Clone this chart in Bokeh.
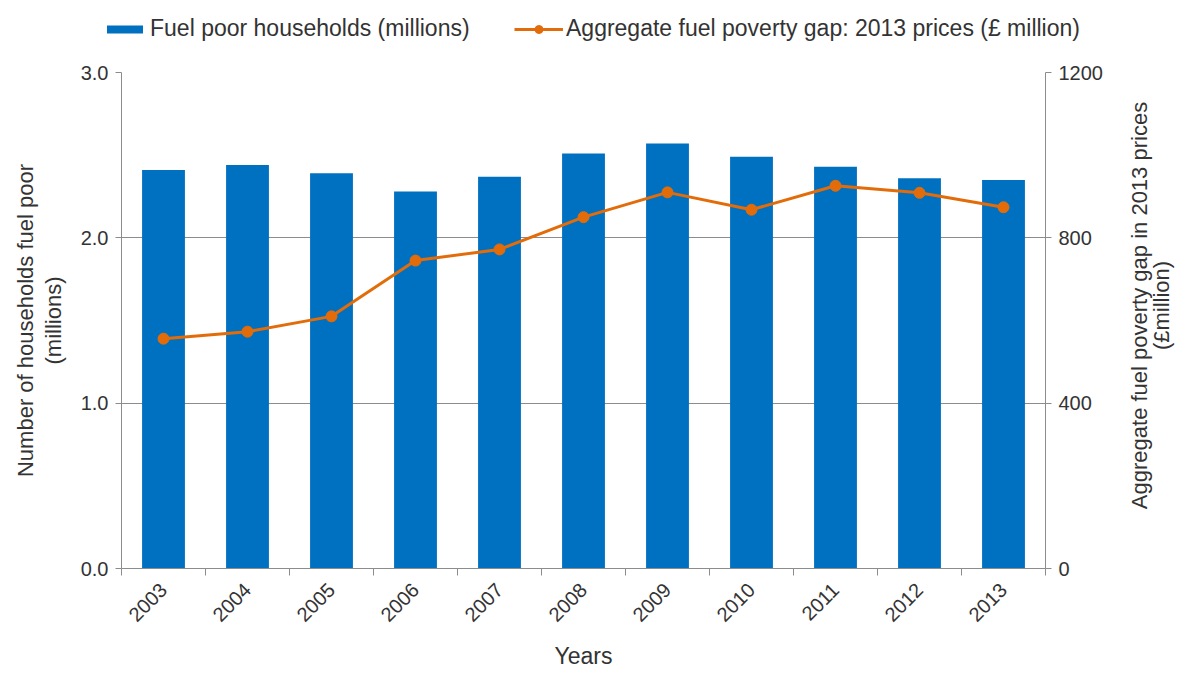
from bokeh.plotting import figure
from bokeh.layouts import column, row
from bokeh.models import (Range1d, LinearAxis, FixedTicker, NumeralTickFormatter,
                          Legend, LegendItem, ColumnDataSource)
from bokeh.core.properties import value
from bokeh.embed import file_html
from bokeh.resources import INLINE
import math

years = ["2003", "2004", "2005", "2006", "2007", "2008", "2009", "2010", "2011", "2012", "2013"]
households = [2.41, 2.44, 2.39, 2.28, 2.37, 2.51, 2.57, 2.49, 2.43, 2.36, 2.35]
gap = [556, 573, 610, 745, 772, 850, 910, 868, 926, 909, 874]

bar_name = "Fuel poor households (millions)"
line_name = "Aggregate fuel poverty gap: 2013 prices (\u00a3 million)"
left_title = ["Number of households fuel poor", "(millions)"]
right_title = ["Aggregate fuel poverty gap in 2013 prices", "(\u00a3million)"]

FONT = "Liberation Sans"
BLUE = "#0070C0"
ORANGE = "#E36C0A"
GRID = "#8c8c8c"
TXT = "#333333"

LEG_H = 48
MAIN_W = 1105
MAIN_H = 624
RIGHT_W = 70
FRAME_TOP = 72
FRAME_BOTTOM = 568

xpos = [i + 0.5 for i in range(len(years))]
src = ColumnDataSource(dict(x=xpos, h=households, g=gap))

# ---------------- main chart ----------------
p = figure(width=MAIN_W, height=MAIN_H, output_backend="svg", toolbar_location=None,
           x_range=Range1d(0, len(years)), y_range=Range1d(0, 3))
p.min_border_left = 121
p.min_border_right = MAIN_W - 1045
p.min_border_top = FRAME_TOP - LEG_H
p.min_border_bottom = MAIN_H - (FRAME_BOTTOM - LEG_H)
p.outline_line_color = None

p.extra_y_ranges = {"gap": Range1d(0, 1200)}

bars = p.vbar(x="x", top="h", width=0.51, source=src, color=BLUE, line_color=None)
ln = p.line(x="x", y="g", source=src, y_range_name="gap", color=ORANGE, line_width=3)
mk = p.scatter(x="x", y="g", source=src, y_range_name="gap", size=11,
               color=ORANGE, line_color=ORANGE)


def style_title(ax, text, size="22px"):
    ax.axis_label = text
    ax.axis_label_text_font = FONT
    ax.axis_label_text_font_size = size
    ax.axis_label_text_font_style = "normal"
    ax.axis_label_text_color = TXT


def style_ticks(ax, size="20px"):
    ax.major_label_text_font = FONT
    ax.major_label_text_font_size = size
    ax.major_label_text_color = TXT


# x axis
xa = p.xaxis[0]
xa.ticker = FixedTicker(ticks=xpos, minor_ticks=list(range(len(years) + 1)))
xa.major_label_overrides = {x: y for x, y in zip(xpos, years)}
xa.major_label_orientation = math.pi / 4
xa.major_tick_out = 0
xa.major_tick_in = 0
xa.minor_tick_out = 7
xa.minor_tick_in = 0
xa.minor_tick_line_color = GRID
xa.axis_line_color = GRID
style_ticks(xa, "20px")
xa.major_label_standoff = 11
style_title(xa, "Years", "23px")
xa.axis_label_standoff = 12

# left axis
ya = p.yaxis[0]
ya.ticker = FixedTicker(ticks=[0, 1, 2, 3])
ya.formatter = NumeralTickFormatter(format="0.0")
ya.major_tick_out = 6
ya.major_tick_in = 0
ya.minor_tick_out = 0
ya.minor_tick_in = 0
ya.major_tick_line_color = GRID
ya.axis_line_color = GRID
style_ticks(ya)
ya.major_label_standoff = 7
style_title(ya, left_title[1])
ya.axis_label_standoff = 12

ya2 = LinearAxis(ticker=FixedTicker(ticks=[]))
ya2.axis_line_color = None
ya2.major_tick_line_color = None
ya2.minor_tick_line_color = None
ya2.major_tick_out = 0
ya2.minor_tick_out = 0
ya2.major_label_text_font_size = "0px"
ya2.major_label_standoff = 0
style_title(ya2, left_title[0])
ya2.axis_label_standoff = 0
p.add_layout(ya2, "left")

# right axis (ticks only; title drawn in side panel)
ra = LinearAxis(y_range_name="gap", ticker=FixedTicker(ticks=[0, 400, 800, 1200]))
ra.major_tick_out = 6
ra.major_tick_in = 0
ra.minor_tick_out = 0
ra.minor_tick_in = 0
ra.major_tick_line_color = GRID
ra.axis_line_color = GRID
style_ticks(ra)
ra.major_label_standoff = 7
p.add_layout(ra, "right")

p.xgrid.grid_line_color = None
p.ygrid.ticker = FixedTicker(ticks=[1, 2, 3])
p.ygrid.grid_line_color = GRID
p.ygrid.grid_line_width = 1

# ---------------- right title panel ----------------
# (its frame is aligned with the main chart's frame by the row layout)
FRAME_H = FRAME_BOTTOM - FRAME_TOP
rf = figure(width=RIGHT_W, height=MAIN_H, output_backend="svg", toolbar_location=None,
            x_range=Range1d(0, RIGHT_W), y_range=Range1d(0, FRAME_H),
            x_axis_type=None, y_axis_type=None, min_border=0)
rf.outline_line_color = None
rf.grid.grid_line_color = None
ty = FRAME_BOTTOM - 305
for tx, t in zip([34, 56], right_title):
    rf.text(x=[tx], y=[ty], text=[t], angle=math.pi / 2, text_align="center",
            text_baseline="middle", text_font=value(FONT), text_font_size="22px",
            text_color=TXT)

# ---------------- legend panel ----------------
# legend proxies use the real data, kept outside this panel's visible ranges
lf = figure(width=MAIN_W + RIGHT_W, height=LEG_H, output_backend="svg", toolbar_location=None,
            x_range=Range1d(1000, 1001), y_range=Range1d(5000, 5001),
            x_axis_type=None, y_axis_type=None, min_border=0)
lf.outline_line_color = None
lf.grid.grid_line_color = None
lbar = lf.vbar(x="x", top="h", width=0.5, source=src, color=BLUE, line_color=None)
lln = lf.line(x="x", y="g", source=src, color=ORANGE, line_width=3)
lmk = lf.scatter(x="x", y="g", source=src, size=10, color=ORANGE, line_color=ORANGE)


def make_legend(items, loc, gw, gh):
    lg = Legend(items=items, location=loc, orientation="horizontal")
    lg.label_text_font = FONT
    lg.label_text_font_size = "23px"
    lg.label_text_color = TXT
    lg.glyph_width = gw
    lg.glyph_height = gh
    lg.label_height = 24
    lg.label_standoff = 3
    lg.border_line_color = None
    lg.background_fill_alpha = 0
    lg.padding = 0
    lg.margin = 0
    return lg


lf.add_layout(make_legend([LegendItem(label=bar_name, renderers=[lbar])], (102, 6), 45, 10))
lf.add_layout(make_legend([LegendItem(label=line_name, renderers=[lln, lmk])], (514, 6), 49, 20))

layout = column(lf, row(p, rf, spacing=0), spacing=0)
open("out.html", "w").write(file_html(layout, INLINE))
